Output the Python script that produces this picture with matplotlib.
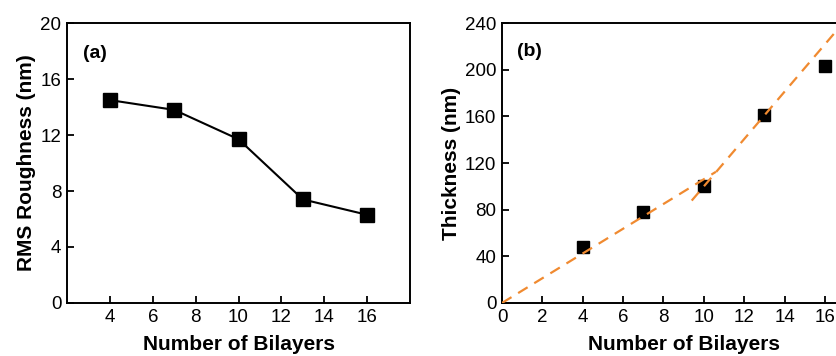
import matplotlib

matplotlib.use("Agg")
import matplotlib.pyplot as plt

plt.rcParams["font.family"] = ["Liberation Sans", "DejaVu Sans"]

# (a) RMS roughness vs bilayers
bilayers = [4, 7, 10, 13, 16]
roughness = [14.5, 13.8, 11.7, 7.4, 6.3]

# (b) thickness vs bilayers, with small error bars
thickness = [48, 78, 100, 161, 203]
thickness_err = [5, 5, 5, 4, 4]

# two dashed linear fits drawn in (b)
fit1_x = [0, 10.6]
fit1_y = [0, 112.5]
fit2_x = [9.4, 17.5]
fit2_y = [87.8, 252.3]

fig = plt.figure(figsize=(8.37, 3.56), dpi=100)
ax1 = fig.add_axes([0.080, 0.149, 0.410, 0.786])
ax2 = fig.add_axes([0.5998, 0.149, 0.434, 0.786])

ax1.plot(bilayers, roughness, color="black", linewidth=1.5, marker="s",
         markersize=9.5, markerfacecolor="black")
ax1.set_xlim(2, 18)
ax1.set_ylim(0, 20)
ax1.set_xticks([4, 6, 8, 10, 12, 14, 16])
ax1.set_yticks([0, 4, 8, 12, 16, 20])
ax1.set_xlabel("Number of Bilayers", fontsize=15, fontweight="bold", labelpad=6.5)
ax1.set_ylabel("RMS Roughness (nm)", fontsize=15, fontweight="bold", labelpad=3)
ax1.text(0.047, 0.89, "(a)", transform=ax1.transAxes, fontsize=14,
         fontweight="bold", va="center")

ax2.errorbar(bilayers, thickness, yerr=thickness_err, fmt="s", color="black",
             markersize=9, elinewidth=1.2, capsize=0, zorder=2)
ax2.plot(fit1_x, fit1_y, color="#f08a30", linestyle=(0, (5, 3.5)), linewidth=1.6, zorder=3)
ax2.plot(fit2_x, fit2_y, color="#f08a30", linestyle=(0, (5, 3.5)), linewidth=1.6, zorder=3)
ax2.set_xlim(0, 18)
ax2.set_ylim(0, 240)
ax2.set_xticks([0, 2, 4, 6, 8, 10, 12, 14, 16, 18])
ax2.set_yticks([0, 40, 80, 120, 160, 200, 240])
ax2.set_xlabel("Number of Bilayers", fontsize=15, fontweight="bold", labelpad=6.5)
ax2.set_ylabel("Thickness (nm)", fontsize=15, fontweight="bold", labelpad=3)
ax2.text(0.041, 0.90, "(b)", transform=ax2.transAxes, fontsize=14,
         fontweight="bold", va="center")

for ax in (ax1, ax2):
    ax.tick_params(direction="in", length=5, width=1.3, labelsize=13.5, pad=4)
    for sp in ax.spines.values():
        sp.set_linewidth(1.4)

fig.savefig("out.png", dpi=100)
